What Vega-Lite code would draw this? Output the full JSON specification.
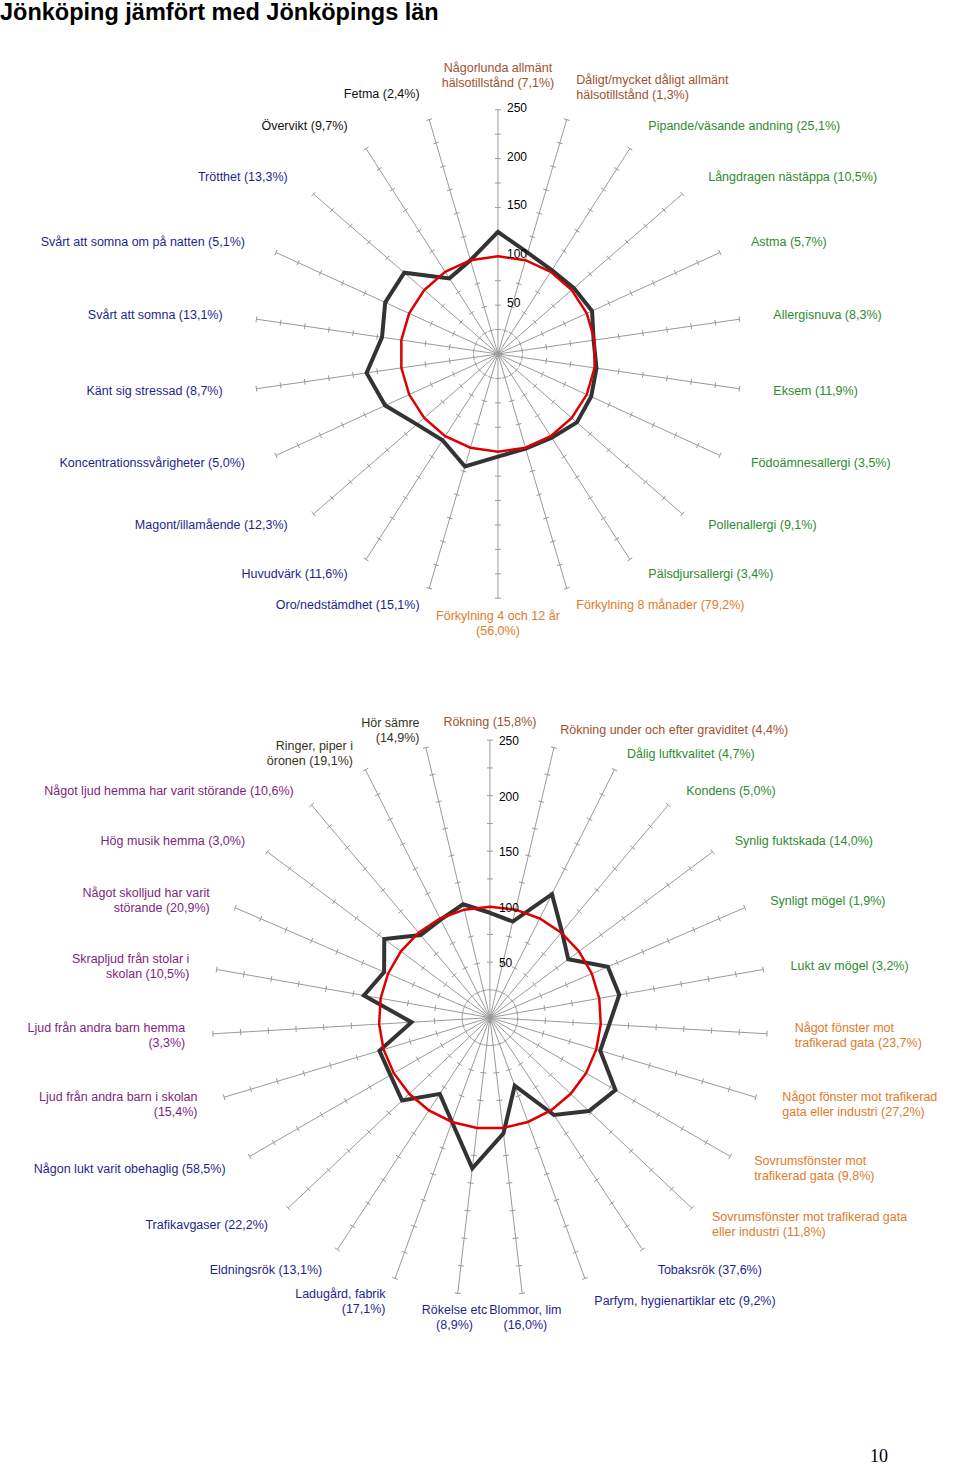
{
 "$schema": "https://vega.github.io/schema/vega-lite/v6.json",
 "padding": 0,
 "spacing": 0,
 "config": {"view": {"stroke": null}, "text": {"font": "Liberation Sans"}, "title": {"font": "Liberation Sans"}},
 "title": {"text": "Jönköping jämfört med Jönköpings län", "anchor": "start", "baseline": "top", "fontSize": 23.5, "fontWeight": "bold", "color": "#000000", "offset": 3, "dy": 1, "frame": "group"},
 "datasets": {
  "top": [
   {"label": "Någorlunda allmänt\nhälsotillstånd (7,1%)", "grp": "allm", "value": 125, "ref": 100},
   {"label": "Dåligt/mycket dåligt allmänt\nhälsotillstånd (1,3%)", "grp": "allm", "value": 108, "ref": 100},
   {"label": "Pipande/väsande andning (25,1%)", "grp": "luft", "value": 102, "ref": 100},
   {"label": "Långdragen nästäppa (10,5%)", "grp": "luft", "value": 103, "ref": 100},
   {"label": "Astma (5,7%)", "grp": "luft", "value": 106, "ref": 100},
   {"label": "Allergisnuva (8,3%)", "grp": "luft", "value": 99, "ref": 100},
   {"label": "Eksem (11,9%)", "grp": "luft", "value": 102, "ref": 100},
   {"label": "Födoämnesallergi (3,5%)", "grp": "luft", "value": 105, "ref": 100},
   {"label": "Pollenallergi  (9,1%)", "grp": "luft", "value": 107, "ref": 100},
   {"label": "Pälsdjursallergi (3,4%)", "grp": "luft", "value": 102, "ref": 100},
   {"label": "Förkylning 8 månader (79,2%)", "grp": "fork", "value": 101, "ref": 100},
   {"label": "Förkylning 4 och 12 år\n(56,0%)", "grp": "fork", "value": 105, "ref": 100},
   {"label": "Oro/nedstämdhet (15,1%)", "grp": "psyk", "value": 120, "ref": 100},
   {"label": "Huvudvärk (11,6%)", "grp": "psyk", "value": 105, "ref": 100},
   {"label": "Magont/illamående (12,3%)", "grp": "psyk", "value": 110, "ref": 100},
   {"label": "Koncentrationssvårigheter (5,0%)", "grp": "psyk", "value": 127, "ref": 100},
   {"label": "Känt sig stressad (8,7%)", "grp": "psyk", "value": 136, "ref": 100},
   {"label": "Svårt att somna (13,1%)", "grp": "psyk", "value": 120, "ref": 100},
   {"label": "Svårt att somna om på natten (5,1%)", "grp": "psyk", "value": 127, "ref": 100},
   {"label": "Trötthet (13,3%)", "grp": "psyk", "value": 127, "ref": 100},
   {"label": "Övervikt (9,7%)", "grp": "vikt", "value": 92, "ref": 100},
   {"label": "Fetma (2,4%)", "grp": "vikt", "value": 100, "ref": 100}
  ],
  "bot": [
   {"label": "Rökning (15,8%)", "grp": "rok", "value": 94.5, "ref": 100},
   {"label": "Rökning under och efter graviditet (4,4%)", "grp": "rok", "value": 89, "ref": 100},
   {"label": "Dålig luftkvalitet (4,7%)", "grp": "fukt", "value": 124.5, "ref": 100},
   {"label": "Kondens (5,0%)", "grp": "fukt", "value": 101, "ref": 100},
   {"label": "Synlig fuktskada (14,0%)", "grp": "fukt", "value": 88, "ref": 100},
   {"label": "Synligt mögel (1,9%)", "grp": "fukt", "value": 115.7, "ref": 100},
   {"label": "Lukt av mögel (3,2%)", "grp": "fukt", "value": 118.3, "ref": 100},
   {"label": "Något fönster mot\ntrafikerad gata (23,7%)", "grp": "trafik", "value": 107.6, "ref": 100},
   {"label": "Något fönster mot trafikerad\ngata eller industri (27,2%)", "grp": "trafik", "value": 103.7, "ref": 100},
   {"label": "Sovrumsfönster mot\ntrafikerad gata (9,8%)", "grp": "trafik", "value": 130.6, "ref": 100},
   {"label": "Sovrumsfönster mot trafikerad gata\neller industri (11,8%)", "grp": "trafik", "value": 122.6, "ref": 100},
   {"label": "Tobaksrök (37,6%)", "grp": "lukt", "value": 105, "ref": 100},
   {"label": "Parfym, hygienartiklar etc (9,2%)", "grp": "lukt", "value": 65.3, "ref": 100},
   {"label": "Blommor, lim\n(16,0%)", "grp": "lukt", "value": 105, "ref": 100},
   {"label": "Rökelse etc\n(8,9%)", "grp": "lukt", "value": 136.7, "ref": 100},
   {"label": "Ladugård, fabrik\n(17,1%)", "grp": "lukt", "value": 100, "ref": 100},
   {"label": "Eldningsrök (13,1%)", "grp": "lukt", "value": 82.2, "ref": 100},
   {"label": "Trafikavgaser (22,2%)", "grp": "lukt", "value": 108.8, "ref": 100},
   {"label": "Någon lukt varit obehaglig (58,5%)", "grp": "lukt", "value": 103.5, "ref": 100},
   {"label": "Ljud från andra barn i skolan\n(15,4%)", "grp": "ljud", "value": 103.9, "ref": 100},
   {"label": "Ljud från andra barn hemma\n(3,3%)", "grp": "ljud", "value": 70.7, "ref": 100},
   {"label": "Skrapljud från stolar i\nskolan (10,5%)", "grp": "ljud", "value": 115.3, "ref": 100},
   {"label": "Något skolljud har varit\nstörande (20,9%)", "grp": "ljud", "value": 103.8, "ref": 100},
   {"label": "Hög musik hemma (3,0%)", "grp": "ljud", "value": 118.7, "ref": 100},
   {"label": "Något ljud hemma har varit störande (10,6%)", "grp": "ljud", "value": 97.1, "ref": 100},
   {"label": "Ringer, piper i\nöronen (19,1%)", "grp": "hor", "value": 98.8, "ref": 100},
   {"label": "Hör sämre\n(14,9%)", "grp": "hor", "value": 105, "ref": 100}
  ],
  "ticksTop": [{"k": [0,1,2,3,4,5,6,7,8,9,10,11,12,13,14,15,16,17,18,19,20,21], "v": [25,50,75,100,125,150,175,200,225,250]}],
  "ticksBot": [{"k": [0,1,2,3,4,5,6,7,8,9,10,11,12,13,14,15,16,17,18,19,20,21,22,23,24,25,26], "v": [25,50,75,100,125,150,175,200,225,250]}],
  "axis": [{"v": 50}, {"v": 100}, {"v": 150}, {"v": 200}, {"v": 250}]
 },
 "vconcat": [
  {
   "width": 960, "height": 654,
   "layer": [
    {
     "data": {"name": "ticksTop"},
     "transform": [
      {"flatten": ["k"]}, {"flatten": ["v"]},
      {"calculate": "datum.k*2*PI/22", "as": "a"},
      {"calculate": "datum.v*sin(datum.a)-3*cos(datum.a)", "as": "x"},
      {"calculate": "datum.v*cos(datum.a)+3*sin(datum.a)", "as": "y"},
      {"calculate": "datum.v*sin(datum.a)+3*cos(datum.a)", "as": "x2"},
      {"calculate": "datum.v*cos(datum.a)-3*sin(datum.a)", "as": "y2"}
     ],
     "mark": {"type": "rule", "color": "#9a9a9a", "strokeWidth": 1},
     "encoding": {
      "x": {"field": "x", "type": "quantitative", "scale": {"domain": [-510.2, 473.4], "nice": false, "zero": false}, "axis": null},
      "y": {"field": "y", "type": "quantitative", "scale": {"domain": [-333.7, 335.7], "nice": false, "zero": false}, "axis": null},
      "x2": {"field": "x2"}, "y2": {"field": "y2"}
     }
    },
    {
     "data": {"name": "top"},
     "transform": [
      {"window": [{"op": "row_number", "as": "rn"}]},
      {"calculate": "(datum.rn-1)*2*PI/22", "as": "a"},
      {"calculate": "indexof(datum.label, '\\n') >= 0 ? 1 : 0", "as": "ml"},
      {"calculate": "datum.value*sin(datum.a)", "as": "x"},
      {"calculate": "datum.value*cos(datum.a)", "as": "y"},
      {"calculate": "datum.ref*sin(datum.a)", "as": "rx"},
      {"calculate": "datum.ref*cos(datum.a)", "as": "ry"},
      {"calculate": "250*sin(datum.a)", "as": "sx"},
      {"calculate": "250*cos(datum.a)", "as": "sy"},
      {"calculate": "285*sin(datum.a)", "as": "lx"},
      {"calculate": "cos(datum.a)*((cos(datum.a) > 0 ? 277 : 268) + datum.ml*7.7) + datum.ml*7.7", "as": "ly"},
      {"calculate": "0", "as": "c"}
     ],
     "layer": [
      {"mark": {"type": "rule", "color": "#9a9a9a", "strokeWidth": 1},
       "encoding": {"x": {"field": "c", "type": "quantitative"}, "y": {"field": "c", "type": "quantitative"}, "x2": {"field": "sx"}, "y2": {"field": "sy"}}},
      {"mark": {"type": "line", "color": "#333333", "strokeWidth": 4, "interpolate": "linear-closed", "strokeJoin": "miter"},
       "encoding": {"x": {"field": "x", "type": "quantitative"}, "y": {"field": "y", "type": "quantitative"}, "order": {"field": "rn", "type": "quantitative"}}},
      {"mark": {"type": "line", "color": "#dd0000", "strokeWidth": 2.5, "interpolate": "linear-closed"},
       "encoding": {"x": {"field": "rx", "type": "quantitative"}, "y": {"field": "ry", "type": "quantitative"}, "order": {"field": "rn", "type": "quantitative"}}},
      {"transform": [{"filter": "sin(datum.a) > 0.15"}],
       "mark": {"type": "text", "align": "left", "baseline": "middle", "fontSize": 12.5, "lineBreak": "\n", "lineHeight": 15},
       "encoding": {"x": {"field": "lx", "type": "quantitative"}, "y": {"field": "ly", "type": "quantitative"}, "text": {"field": "label"},
        "color": {"field": "grp", "type": "nominal", "legend": null, "scale": {"domain": ["allm","luft","fork","psyk","vikt","rok","fukt","trafik","lukt","ljud","hor"], "range": ["#a0522d","#2e8b2e","#e07b2a","#1f1f8f","#111111","#a0522d","#2e8b2e","#e07b2a","#1f1f8f","#7f1f7f","#333322"]}}}},
      {"transform": [{"filter": "sin(datum.a) < -0.15"}],
       "mark": {"type": "text", "align": "right", "baseline": "middle", "fontSize": 12.5, "lineBreak": "\n", "lineHeight": 15},
       "encoding": {"x": {"field": "lx", "type": "quantitative"}, "y": {"field": "ly", "type": "quantitative"}, "text": {"field": "label"},
        "color": {"field": "grp", "type": "nominal", "legend": null}}},
      {"transform": [{"filter": "abs(sin(datum.a)) <= 0.15"}],
       "mark": {"type": "text", "align": "center", "baseline": "middle", "fontSize": 12.5, "lineBreak": "\n", "lineHeight": 15},
       "encoding": {"x": {"field": "lx", "type": "quantitative"}, "y": {"field": "ly", "type": "quantitative"}, "text": {"field": "label"},
        "color": {"field": "grp", "type": "nominal", "legend": null}}}
     ]
    },
    {
     "data": {"name": "axis"},
     "transform": [{"calculate": "0", "as": "c"}],
     "mark": {"type": "text", "align": "left", "baseline": "middle", "fontSize": 12, "dx": 9, "dy": -2, "color": "#000000"},
     "encoding": {"x": {"field": "c", "type": "quantitative"}, "y": {"field": "v", "type": "quantitative"}, "text": {"field": "v"}}
    }
   ]
  },
  {
   "width": 960, "height": 760,
   "title": {"text": "10", "orient": "bottom", "anchor": "end", "fontSize": 18, "font": "Liberation Serif", "fontWeight": "normal", "dx": -72, "offset": 8, "color": "#000000"},
   "layer": [
    {
     "data": {"name": "ticksBot"},
     "transform": [
      {"flatten": ["k"]}, {"flatten": ["v"]},
      {"calculate": "datum.k*2*PI/27", "as": "a"},
      {"calculate": "datum.v*sin(datum.a)-2.7*cos(datum.a)", "as": "x"},
      {"calculate": "datum.v*cos(datum.a)+2.7*sin(datum.a)", "as": "y"},
      {"calculate": "datum.v*sin(datum.a)+2.7*cos(datum.a)", "as": "x2"},
      {"calculate": "datum.v*cos(datum.a)-2.7*sin(datum.a)", "as": "y2"}
     ],
     "mark": {"type": "rule", "color": "#9a9a9a", "strokeWidth": 1},
     "encoding": {
      "x": {"field": "x", "type": "quantitative", "scale": {"domain": [-441.4, 423.5], "nice": false, "zero": false}, "axis": null},
      "y": {"field": "y", "type": "quantitative", "scale": {"domain": [-380.5, 304.2], "nice": false, "zero": false}, "axis": null},
      "x2": {"field": "x2"}, "y2": {"field": "y2"}
     }
    },
    {
     "data": {"name": "bot"},
     "transform": [
      {"window": [{"op": "row_number", "as": "rn"}]},
      {"calculate": "(datum.rn-1)*2*PI/27", "as": "a"},
      {"calculate": "indexof(datum.label, '\\n') >= 0 ? 1 : 0", "as": "ml"},
      {"calculate": "datum.value*sin(datum.a)", "as": "x"},
      {"calculate": "datum.value*cos(datum.a)", "as": "y"},
      {"calculate": "datum.ref*sin(datum.a)", "as": "rx"},
      {"calculate": "datum.ref*cos(datum.a)", "as": "ry"},
      {"calculate": "250*sin(datum.a)", "as": "sx"},
      {"calculate": "250*cos(datum.a)", "as": "sy"},
      {"calculate": "275*sin(datum.a)", "as": "lx"},
      {"calculate": "cos(datum.a)*(cos(datum.a) > 0 ? 266 : 272) + datum.ml*6.8", "as": "ly"},
      {"calculate": "0", "as": "c"}
     ],
     "layer": [
      {"mark": {"type": "rule", "color": "#9a9a9a", "strokeWidth": 1},
       "encoding": {"x": {"field": "c", "type": "quantitative"}, "y": {"field": "c", "type": "quantitative"}, "x2": {"field": "sx"}, "y2": {"field": "sy"}}},
      {"mark": {"type": "line", "color": "#333333", "strokeWidth": 4, "interpolate": "linear-closed", "strokeJoin": "miter"},
       "encoding": {"x": {"field": "x", "type": "quantitative"}, "y": {"field": "y", "type": "quantitative"}, "order": {"field": "rn", "type": "quantitative"}}},
      {"mark": {"type": "line", "color": "#dd0000", "strokeWidth": 2.5, "interpolate": "linear-closed"},
       "encoding": {"x": {"field": "rx", "type": "quantitative"}, "y": {"field": "ry", "type": "quantitative"}, "order": {"field": "rn", "type": "quantitative"}}},
      {"transform": [{"filter": "sin(datum.a) > 0.15"}],
       "mark": {"type": "text", "align": "left", "baseline": "middle", "fontSize": 12.5, "lineBreak": "\n", "lineHeight": 15},
       "encoding": {"x": {"field": "lx", "type": "quantitative"}, "y": {"field": "ly", "type": "quantitative"}, "text": {"field": "label"},
        "color": {"field": "grp", "type": "nominal", "legend": null, "scale": {"domain": ["allm","luft","fork","psyk","vikt","rok","fukt","trafik","lukt","ljud","hor"], "range": ["#a0522d","#2e8b2e","#e07b2a","#1f1f8f","#111111","#a0522d","#2e8b2e","#e07b2a","#1f1f8f","#7f1f7f","#333322"]}}}},
      {"transform": [{"filter": "sin(datum.a) < -0.15"}],
       "mark": {"type": "text", "align": "right", "baseline": "middle", "fontSize": 12.5, "lineBreak": "\n", "lineHeight": 15},
       "encoding": {"x": {"field": "lx", "type": "quantitative"}, "y": {"field": "ly", "type": "quantitative"}, "text": {"field": "label"},
        "color": {"field": "grp", "type": "nominal", "legend": null}}},
      {"transform": [{"filter": "abs(sin(datum.a)) <= 0.15"}],
       "mark": {"type": "text", "align": "center", "baseline": "middle", "fontSize": 12.5, "lineBreak": "\n", "lineHeight": 15},
       "encoding": {"x": {"field": "lx", "type": "quantitative"}, "y": {"field": "ly", "type": "quantitative"}, "text": {"field": "label"},
        "color": {"field": "grp", "type": "nominal", "legend": null}}}
     ]
    },
    {
     "data": {"name": "axis"},
     "transform": [{"calculate": "0", "as": "c"}],
     "mark": {"type": "text", "align": "left", "baseline": "middle", "fontSize": 12, "dx": 9, "dy": 1, "color": "#000000"},
     "encoding": {"x": {"field": "c", "type": "quantitative"}, "y": {"field": "v", "type": "quantitative"}, "text": {"field": "v"}}
    }
   ]
  }
 ]
}
